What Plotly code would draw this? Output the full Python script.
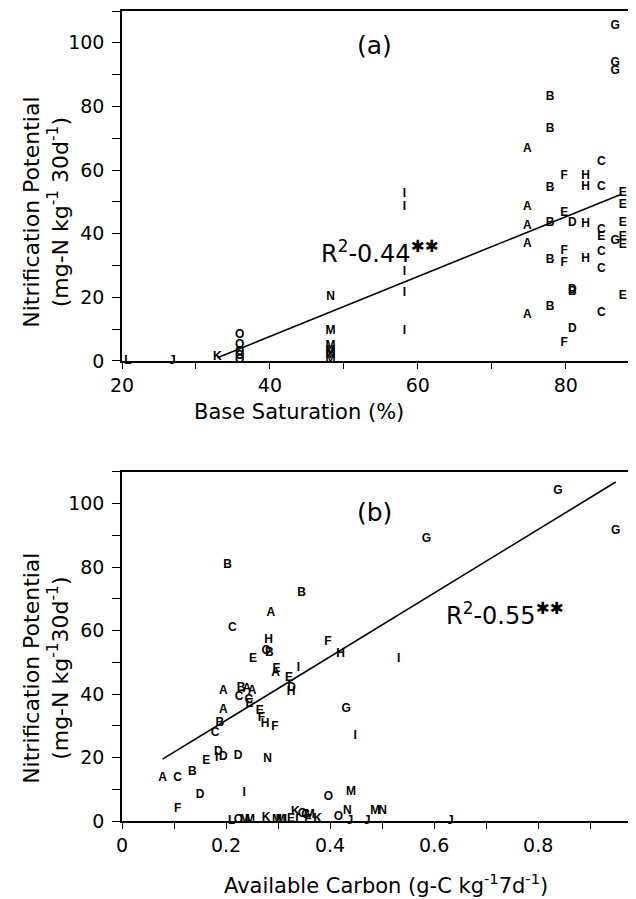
import plotly.graph_objects as go

# (a) nitrification potential vs base saturation, letters = sites
a_site = ["L", "J", "K",
          "O", "O", "O", "O", "O",
          "N", "M", "M", "M", "M", "M",
          "I", "I", "I", "I", "I",
          "A", "A", "A", "A", "A",
          "B", "B", "B", "B", "B", "B",
          "F", "F", "F", "F", "E",
          "D", "D", "B", "D",
          "H", "H", "H", "H",
          "C", "C", "C", "E", "C", "C", "C",
          "E", "E", "E", "E", "E", "E",
          "G", "G", "G", "G"]
a_base_sat = [20.8, 26.8, 32.9,
              35.9, 35.9, 35.9, 35.9, 35.9,
              48.2, 48.2, 48.2, 48.2, 48.2, 48.2,
              58.2, 58.2, 58.2, 58.2, 58.2,
              74.8, 74.8, 74.8, 74.8, 74.8,
              77.9, 77.9, 77.9, 77.9, 77.9, 77.9,
              79.8, 79.8, 79.8, 79.8, 79.8,
              80.9, 80.9, 80.9, 80.9,
              82.7, 82.7, 82.7, 82.7,
              84.8, 84.8, 84.8, 84.8, 84.8, 84.8, 84.8,
              87.7, 87.7, 87.7, 87.7, 87.7, 87.7,
              86.7, 86.7, 86.7, 86.7]
a_nitr = [0.0, 0.0, 1.2,
          8.3, 5.0, 2.8, 1.5, 0.3,
          20.2, 9.4, 4.8, 3.2, 1.8, 0.3,
          52.5, 48.5, 28.0, 21.5, 9.5,
          66.6, 48.3, 42.5, 36.8, 14.3,
          83.1, 72.9, 54.3, 43.5, 31.8, 16.9,
          58.0, 34.4, 30.9, 5.6, 46.4,
          43.5, 22.3, 21.8, 10.0,
          58.2, 54.6, 43.1, 32.0,
          62.4, 54.8, 41.3, 38.8, 34.2, 28.9, 15.0,
          52.7, 49.1, 43.3, 39.1, 36.5, 20.4,
          105.3, 93.6, 91.0, 37.8]
a_fit_x = [32.9, 87.6]
a_fit_y = [1.0, 52.5]

# (b) nitrification potential vs available carbon
b_site = ["A", "C", "B", "F", "D", "E",
          "D", "I", "D", "D",
          "C", "B", "A", "A",
          "B", "C",
          "B", "A", "A", "C", "C", "E",
          "E", "H", "A", "O", "B",
          "E", "A", "I", "E",
          "D", "H",
          "E", "F", "H", "F",
          "N", "I",
          "B", "F", "H", "I", "G", "I",
          "G", "G", "G",
          "O", "M", "N", "M", "N",
          "O", "J", "J", "J",
          "L", "O", "M", "M", "K", "M", "M", "L", "E",
          "K", "O", "C", "M", "L", "E", "K"]
b_avail_c = [0.078, 0.107, 0.135, 0.107, 0.150, 0.162,
             0.185, 0.182, 0.195, 0.223,
             0.179, 0.188, 0.195, 0.195,
             0.203, 0.212,
             0.229, 0.240, 0.250, 0.225, 0.244, 0.245,
             0.252, 0.282, 0.286, 0.277, 0.283,
             0.297, 0.295, 0.339, 0.321,
             0.326, 0.325,
             0.265, 0.268, 0.275, 0.294,
             0.280, 0.235,
             0.345, 0.396, 0.420, 0.532, 0.431, 0.448,
             0.585, 0.838, 0.949,
             0.397, 0.440, 0.433, 0.487, 0.501,
             0.416, 0.438, 0.471, 0.631,
             0.211, 0.224, 0.236, 0.246, 0.277, 0.298, 0.305, 0.318, 0.325,
             0.333, 0.347, 0.353, 0.361, 0.340, 0.358, 0.376]
b_nitr = [13.5, 13.5, 15.3, 3.8, 8.2, 18.9,
          21.6, 19.8, 20.3, 20.6,
          27.6, 30.9, 35.0, 40.8,
          80.5, 60.7,
          42.0, 41.5, 41.0, 39.0, 38.0, 36.8,
          51.0, 56.9, 65.4, 53.5, 52.8,
          48.0, 46.5, 48.2, 45.0,
          42.0, 40.7,
          34.6, 32.6, 30.5, 29.5,
          19.5, 8.8,
          71.7, 56.5, 52.7, 51.1, 35.2, 26.9,
          88.7, 103.9, 91.4,
          7.5, 9.2, 3.0, 3.2, 3.2,
          1.2, 0.0, 0.0, 0.0,
          0.0, 0.3, 0.3, 0.3, 0.8, 0.3, 0.3, 0.3, 0.5,
          2.8, 2.2, 2.0, 1.8, 0.2, 0.2, 0.5]
b_fit_x = [0.078, 0.949]
b_fit_y = [19.5, 106.8]

FONT = "DejaVu Sans"
letter_font = dict(family="Liberation Sans", size=12, color="black", weight="bold")

fig = go.Figure()
fig.add_trace(go.Scatter(x=a_base_sat, y=a_nitr, text=a_site, mode="text",
                         textfont=letter_font, cliponaxis=False,
                         xaxis="x", yaxis="y"))
fig.add_trace(go.Scatter(x=a_fit_x, y=a_fit_y, mode="lines",
                         line=dict(color="black", width=1.6),
                         xaxis="x", yaxis="y"))
fig.add_trace(go.Scatter(x=b_avail_c, y=b_nitr, text=b_site, mode="text",
                         textfont=letter_font, cliponaxis=False,
                         xaxis="x2", yaxis="y2"))
fig.add_trace(go.Scatter(x=b_fit_x, y=b_fit_y, mode="lines",
                         line=dict(color="black", width=1.6),
                         xaxis="x2", yaxis="y2"))

axis_style = dict(showline=True, linecolor="black", linewidth=1.6,
                  ticks="outside", tickcolor="black", tickwidth=1.4,
                  showgrid=False, zeroline=False,
                  tickfont=dict(family=FONT, size=19, color="black"))

# page body has an 8px margin, so the figure is drawn 8px smaller and shifted
fig.update_layout(
    width=628, height=891,
    margin=dict(l=114, r=0, t=3, b=78),
    paper_bgcolor="white", plot_bgcolor="white",
    showlegend=False,
    xaxis=dict(axis_style, domain=[0, 1], range=[20, 89.5], anchor="y",
               dtick=20, ticklen=6, mirror=True,
               minor=dict(dtick=10, ticks="outside", ticklen=6, tickcolor="black")),
    yaxis=dict(axis_style, domain=[0.568, 1], range=[0, 110], anchor="x",
               dtick=20, ticklen=8, ticklabelstandoff=4,
               minor=dict(dtick=10, ticks="outside", ticklen=8, tickcolor="black")),
    xaxis2=dict(axis_style, domain=[0, 1], range=[0, 0.988], anchor="y2",
                dtick=0.2, ticklen=6, mirror=True,
                minor=dict(dtick=0.1, ticks="outside", ticklen=6, tickcolor="black")),
    yaxis2=dict(axis_style, domain=[0, 0.431], range=[0, 110], anchor="x2",
                dtick=20, ticklen=8, ticklabelstandoff=4,
                minor=dict(dtick=10, ticks="outside", ticklen=8, tickcolor="black")),
)

notes = [
    ("(a)", 0.492, 0.957, 25, 0),
    ("(b)", 0.492, 0.381, 25, 0),
    ("R<sup>2</sup>-0.44<sup>✱✱</sup>", 0.502, 0.702, 24, 0),
    ("R<sup>2</sup>-0.55<sup>✱✱</sup>", 0.745, 0.256, 24, 0),
    ("Base Saturation (%)", 0.345, 0.505, 21, 0),
    ("Available Carbon (g-C kg<sup>-1</sup>7d<sup>-1</sup>)", 0.514, -0.078, 21, 0),
    ("Nitrification Potential<br>(mg-N kg<sup>-1</sup> 30d<sup>-1</sup>)", -0.148, 0.752, 22, -90),
    ("Nitrification Potential<br>(mg-N kg<sup>-1</sup>30d<sup>-1</sup>)", -0.148, 0.189, 22, -90),
]
for txt, xp, yp, sz, ang in notes:
    fig.add_annotation(text=txt, x=xp, y=yp, xref="paper", yref="paper",
                       xanchor="center", yanchor="middle", showarrow=False,
                       textangle=ang, font=dict(family=FONT, size=sz, color="black"))

fig.write_html("out.html")
